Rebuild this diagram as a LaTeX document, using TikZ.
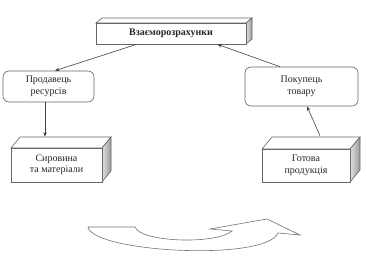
\documentclass[tikz,border=0pt]{standalone}
\usepackage{fontspec}
\setmainfont{Liberation Serif}
\usetikzlibrary{arrows.meta}
\begin{document}
\begin{tikzpicture}[x=1pt,y=-1pt,
  face/.style={draw=black!60, line width=0.6pt, fill=white, inner sep=0pt, align=center,
    font=\fontsize{10}{11.5}\selectfont, text=black!85},
  topface/.style={draw=black!60, line width=0.6pt, fill=white},
  sideface/.style={draw=black!60, line width=0.6pt, left color=black!12, right color=black!40},
  rbox/.style={face, rounded corners=6pt},
  arr/.style={draw=black!75, line width=0.6pt, -{Stealth[length=4.5pt,width=3.5pt]}},
  bigarrow/.style={draw=black!55, line width=0.6pt, fill=white}
]
\useasboundingbox (0,0) rectangle (367,259);

% top box
\draw[topface] (96,23) -- (102,18) -- (252,18) -- (246,23) -- cycle;
\draw[sideface] (246,23) -- (252,18) -- (252,39) -- (246,44) -- cycle;
\node[face, minimum width=150pt, minimum height=21pt] (vz) at (171,33.5) {\textbf{Взаєморозрахунки}};

% Сировина box
\draw[topface] (11,148) -- (20,137) -- (111,137) -- (102,148) -- cycle;
\draw[sideface] (102,148) -- (111,137) -- (111,171) -- (102,182) -- cycle;
\node[face, minimum width=91pt, minimum height=34pt] (syr) at (56.5,165) {Сировина\\та матеріали};

% Готова box
\draw[topface] (262,149) -- (272,137) -- (360,137) -- (350,149) -- cycle;
\draw[sideface] (350,149) -- (360,137) -- (360,170) -- (350,182) -- cycle;
\node[face, minimum width=88pt, minimum height=33pt] (got) at (306,165.5) {Готова\\продукція};

% rounded boxes
\node[rbox, minimum width=91pt, minimum height=31pt] (prod) at (48.5,86.5) {Продавець\\ресурсів};
\node[rbox, minimum width=113pt, minimum height=39pt] (pok) at (301.5,86.5) {Покупець\\товару};

% connectors
\draw[arr] ([xshift=41pt]vz.south west) -- ([xshift=6.5pt]prod.north);
\draw[arr] ([xshift=-21.5pt]pok.north) -- ([xshift=-29pt]vz.south east);
\draw[arr] ([xshift=-3.5pt]prod.south) -- ([xshift=-11.5pt,yshift=11pt]syr.north);
\draw[arr] ([xshift=14pt,yshift=13pt]got.north) -- ([xshift=5.5pt]pok.south);

% curved block arrow
\draw[bigarrow] (88,227) -- (135,227)
  .. controls (140,242) and (215,245) .. (232,231)
  -- (210,229) -- (267,219) -- (300,235) -- (278,233)
  .. controls (265,262) and (92,252) .. cycle;
\end{tikzpicture}
\end{document}
